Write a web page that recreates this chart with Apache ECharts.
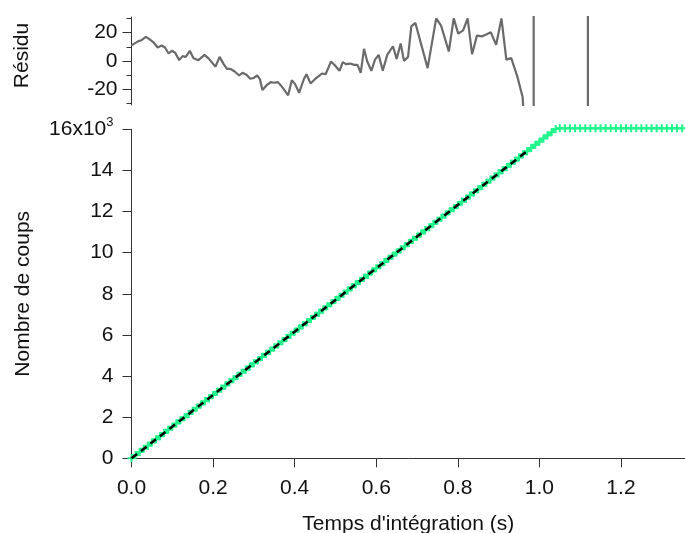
<!DOCTYPE html>
<html>
<head>
<meta charset="utf-8">
<script src="https://cdn.jsdelivr.net/npm/echarts@6/dist/echarts.min.js"></script>
<style>
html,body{margin:0;padding:0;background:#fff;}
#chart{width:685px;height:533px;}
</style>
</head>
<body>
<div id="chart"></div>
<script>
// ---- data ----
const xMax = 1.357;
const xTicks = [0, 0.2, 0.4, 0.6, 0.8, 1.0, 1.2];
const residMajorTicks = [-20, 0, 20];
const residMinorTicks = [-30, -10, 10, 30];

// residual (top panel)
const residT = [0.000,0.017,0.024,0.035,0.043,0.054,0.064,0.074,0.082,0.091,0.099,0.107,0.117,0.125,0.133,0.143,0.152,0.164,0.179,0.190,
  0.206,0.216,0.226,0.234,0.242,0.253,0.264,0.272,0.282,0.291,0.299,0.308,0.315,0.321,0.331,0.341,0.349,0.359,0.370,0.384,
  0.393,0.401,0.411,0.423,0.429,0.439,0.449,0.459,0.467,0.476,0.489,0.499,0.510,0.518,0.526,0.536,0.546,0.554,0.562,0.570,
  0.578,0.588,0.597,0.606,0.616,0.627,0.641,0.650,0.660,0.668,0.678,0.686,0.696,0.726,0.747,0.759,0.778,0.790,0.801,0.813,
  0.824,0.835,0.847,0.860,0.871,0.881,0.894,0.907,0.919,0.931,0.946,0.959,0.962];
const residV = [11,14,14.6,17,15.6,13.2,9.5,10.9,9.5,5.3,7.2,5.8,0.6,3.4,2.9,7.2,2,0.6,4.3,1.5,
  -4,2.9,-2.2,-5.5,-5.5,-7.4,-10.2,-8.3,-9.7,-12.5,-12,-10.2,-13,-20.5,-17.2,-14.9,-15.3,-14.9,-18.6,-24.2,
  -13.5,-16.3,-22.3,-12.5,-9.3,-15.8,-13,-10.7,-8.8,-9.3,-0.4,-3.2,-6.9,-0.8,-2.2,-1.8,-2.7,-2.7,-8.3,8.6,
  -0.4,-6.9,1,4.3,-6.9,4.3,10.4,1.5,12.3,0.1,2.9,24.4,26.8,-5,30,24.9,6.7,30,19.3,21.6,
  30,4.8,17.9,17.4,18.8,20.2,11.4,30,1,2,-11,-25.6,-40];
// off-scale residual spikes
const spikeT = [0.986, 1.119];
const spikeRange = [-1000, 1000];

// measured counts (bottom panel)
const countT = [0,0.01,0.02,0.03,0.04,0.05,0.06,0.07,0.08,0.09,
  0.10,0.11,0.12,0.13,0.14,0.15,0.16,0.17,0.18,0.19,
  0.20,0.21,0.22,0.23,0.24,0.25,0.26,0.27,0.28,0.29,
  0.30,0.31,0.32,0.33,0.34,0.35,0.36,0.37,0.38,0.39,
  0.40,0.41,0.42,0.43,0.44,0.45,0.46,0.47,0.48,0.49,
  0.50,0.51,0.52,0.53,0.54,0.55,0.56,0.57,0.58,0.59,
  0.60,0.61,0.62,0.63,0.64,0.65,0.66,0.67,0.68,0.69,
  0.70,0.71,0.72,0.73,0.74,0.75,0.76,0.77,0.78,0.79,
  0.80,0.81,0.82,0.83,0.84,0.85,0.86,0.87,0.88,0.89,
  0.90,0.91,0.92,0.93,0.94,0.95,0.96,0.97,0.98,0.99,
  1.00,1.01,1.02,1.03,1.04,
  1.05,1.0625,1.075,1.0875,1.10,1.1125,1.125,1.1375,1.15,1.1625,
  1.175,1.1875,1.20,1.2125,1.225,1.2375,1.25,1.2625,1.275,1.2875,
  1.30,1.3125,1.325,1.3375,1.35];
const countV = [0,154,308,462,616,770,924,1078,1232,1386,
  1540,1694,1848,2002,2156,2310,2464,2618,2772,2926,
  3080,3234,3388,3542,3696,3850,4004,4158,4312,4466,
  4620,4774,4928,5082,5236,5390,5544,5698,5852,6006,
  6160,6314,6468,6622,6776,6930,7084,7238,7392,7546,
  7700,7854,8008,8162,8316,8470,8624,8778,8932,9086,
  9240,9394,9548,9702,9856,10010,10164,10318,10472,10626,
  10780,10934,11088,11242,11396,11550,11704,11858,12012,12166,
  12320,12474,12628,12782,12936,13090,13244,13398,13552,13706,
  13860,14014,14168,14322,14476,14630,14784,14938,15092,15246,
  15400,15554,15708,15862,16016,
  16050,16050,16050,16050,16050,16050,16050,16050,16050,16050,
  16050,16050,16050,16050,16050,16050,16050,16050,16050,16050,
  16050,16050,16050,16050,16050];

// linear fit
const fitT = [0, 0.97];
const fitV = [0, 14938];

// ---- chart ----
const FONT = 'Liberation Sans, Arial, sans-serif';
const FS = 21;
const TXT = '#111';
const AX = '#333';
const GREEN = '#1ef58a';
const chart = echarts.init(document.getElementById('chart'), null, {renderer: 'canvas'});
const plusPath = 'path://M3,0H5V3H8V5H5V8H3V5H0V3H3Z';

const series = [
  {
    type: 'line', xAxisIndex: 0, yAxisIndex: 0,
    data: residT.map((t, i) => [t, residV[i]]),
    showSymbol: false, symbol: 'none',
    lineStyle: {color: '#6a6a6a', width: 2.2},
    clip: true, silent: true
  }
];
spikeT.forEach(t => {
  series.push({
    type: 'line', xAxisIndex: 0, yAxisIndex: 0,
    data: spikeRange.map(v => [t, v]),
    showSymbol: false, symbol: 'none',
    lineStyle: {color: '#6a6a6a', width: 2.2},
    clip: true, silent: true
  });
});
series.push({
  type: 'line', xAxisIndex: 1, yAxisIndex: 2,
  data: countT.map((t, i) => [t, countV[i]]),
  symbol: plusPath, symbolSize: 8, showSymbol: true, showAllSymbol: true,
  itemStyle: {color: GREEN},
  lineStyle: {color: GREEN, width: 2},
  z: 2, clip: false, silent: true
});
series.push({
  type: 'line', xAxisIndex: 1, yAxisIndex: 2,
  data: fitT.map((t, i) => [t, fitV[i]]),
  showSymbol: false, symbol: 'none',
  lineStyle: {color: '#000', width: 2.5, type: [7, 5]},
  z: 3, clip: true, silent: true
});

const option = {
  animation: false,
  backgroundColor: '#fff',
  textStyle: {fontFamily: FONT},
  grid: [
    {left: 131.5, top: 17, width: 553.5, height: 88, outerBoundsMode: 'none', containLabel: false},
    {left: 131.5, top: 129.3, width: 553.5, height: 329, outerBoundsMode: 'none', containLabel: false}
  ],
  xAxis: [
    {gridIndex: 0, type: 'value', min: 0, max: xMax, show: false},
    {
      gridIndex: 1, type: 'value', min: 0, max: xMax,
      name: "Temps d'intégration (s)", nameLocation: 'middle', nameGap: 55,
      nameTextStyle: {fontSize: FS, color: TXT, fontFamily: FONT},
      axisLine: {show: true, onZero: false, lineStyle: {color: AX, width: 1}},
      axisTick: {show: true, inside: false, length: 9, customValues: xTicks, lineStyle: {color: AX}},
      axisLabel: {customValues: xTicks, formatter: v => v.toFixed(1), fontSize: FS, color: TXT, margin: 19, fontFamily: FONT},
      splitLine: {show: false}
    }
  ],
  yAxis: [
    {
      gridIndex: 0, type: 'value', min: -31, max: 31, position: 'left',
      name: 'Résidu', nameLocation: 'middle', nameGap: 99, nameRotate: 90,
      nameTextStyle: {fontSize: FS, color: TXT, fontFamily: FONT, padding: [0, 0, 0, 11]},
      axisLine: {show: true, lineStyle: {color: AX, width: 1}},
      axisTick: {show: true, length: 9, customValues: residMajorTicks, lineStyle: {color: AX}},
      axisLabel: {customValues: residMajorTicks, fontSize: FS, color: TXT, margin: 14, fontFamily: FONT},
      splitLine: {show: false}
    },
    {
      gridIndex: 0, type: 'value', min: -31, max: 31, position: 'left', offset: 0,
      axisLine: {show: false},
      axisTick: {show: true, length: 5, customValues: residMinorTicks, lineStyle: {color: AX}},
      axisLabel: {show: false},
      splitLine: {show: false}
    },
    {
      gridIndex: 1, type: 'value', min: 0, max: 16000, interval: 2000, position: 'left',
      name: 'Nombre de coups', nameLocation: 'middle', nameGap: 98, nameRotate: 90,
      nameTextStyle: {fontSize: FS, color: TXT, fontFamily: FONT},
      axisLine: {show: true, onZero: false, lineStyle: {color: AX, width: 1}},
      axisTick: {show: true, length: 9, lineStyle: {color: AX}},
      axisLabel: {
        fontSize: FS, color: TXT, margin: 18, fontFamily: FONT,
        formatter: v => v === 16000 ? '{a|16x10}{s|3}' : String(v / 1000),
        rich: {
          a: {fontSize: FS, color: TXT, fontFamily: FONT},
          s: {fontSize: 13, color: TXT, fontFamily: FONT, verticalAlign: 'top', padding: [0, 0, 14, 0]}
        }
      },
      splitLine: {show: false}
    }
  ],
  series: series
};
chart.setOption(option);
</script>
</body>
</html>
